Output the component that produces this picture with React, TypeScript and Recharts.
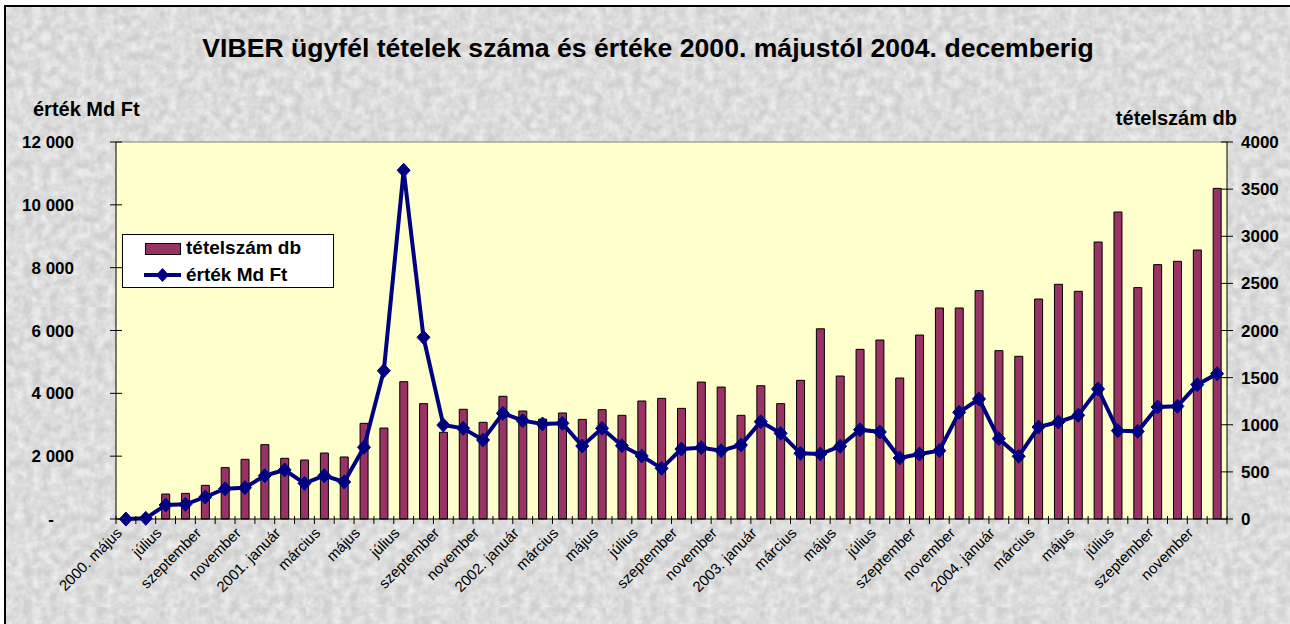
import {
  Bar,
  CartesianGrid,
  ComposedChart,
  Legend,
  Line,
  ReferenceLine,
  XAxis,
  YAxis,
} from "recharts";

const honapok = [
  "2000. május", "június", "július", "augusztus", "szeptember", "október", "november", "december",
  "2001. január", "február", "március", "április", "május", "június", "július", "augusztus",
  "szeptember", "október", "november", "december",
  "2002. január", "február", "március", "április", "május", "június", "július", "augusztus",
  "szeptember", "október", "november", "december",
  "2003. január", "február", "március", "április", "május", "június", "július", "augusztus",
  "szeptember", "október", "november", "december",
  "2004. január", "február", "március", "április", "május", "június", "július", "augusztus",
  "szeptember", "október", "november", "december",
];

// tételszám db (jobb tengely)
const tetelszam = [
  0, 0, 265, 272, 357, 545, 633, 789, 644, 626, 700, 658, 1015, 965, 1457, 1224,
  920, 1164, 1026, 1302, 1146, 1060, 1125, 1057, 1160, 1100, 1252, 1280, 1174, 1453,
  1400, 1100, 1414, 1224, 1471, 2018,
  1517, 1800, 1899, 1496, 1952, 2239, 2239, 2423, 1786, 1726, 2334, 2490, 2416, 2939,
  3257, 2455, 2699, 2734, 2854, 3508,
];

// érték Md Ft (bal tengely)
const ertek = [
  0, 20, 446, 467, 700, 965, 997, 1380, 1560, 1135, 1380, 1178, 2282, 4720, 11100, 5784,
  2992, 2886, 2515, 3364, 3130, 3024, 3045, 2324, 2886, 2334, 2005, 1613, 2228, 2270,
  2175, 2355, 3098, 2727, 2090, 2069,
  2313, 2843, 2769, 1942, 2069, 2175, 3395, 3820, 2557, 1995, 2928, 3087, 3299, 4138,
  2812, 2790, 3565, 3586, 4276, 4626,
];

const balTickek = [0, 2000, 4000, 6000, 8000, 10000, 12000];
const jobbTickek = [0, 500, 1000, 1500, 2000, 2500, 3000, 3500, 4000];

const data = honapok.map((honap, i) => ({
  honap,
  tetelszam: tetelszam[i],
  ertek: ertek[i],
}));

const FONT = "Arial, 'Liberation Sans', Helvetica, sans-serif";
const BAR_COLOR = "#993366";
const LINE_COLOR = "#000080";

const grain = `<svg xmlns='http://www.w3.org/2000/svg' width='300' height='300'><filter id='f'><feTurbulence type='fractalNoise' baseFrequency='0.11' numOctaves='3' seed='4' stitchTiles='stitch'/><feColorMatrix type='matrix' values='0 0 0 0 1 0 0 0 0 1 0 0 0 0 1 1.1 0 0 0 -0.28'/></filter><rect width='300' height='300' filter='url(#f)'/></svg>`;

const fmtBal = (v: number) =>
  v === 0 ? "-" : v >= 1000 ? `${Math.floor(v / 1000)} ${String(v % 1000).padStart(3, "0")}` : String(v);

function BalTick({ x, y, payload }: any) {
  return (
    <g>
      <line x1={x - 6} x2={x + 6} y1={y} y2={y} stroke="#000" />
      <text
        x={payload.value === 0 ? x - 62 : x - 42}
        y={y}
        dy="0.36em"
        textAnchor="end"
        fontFamily={FONT}
        fontWeight="bold"
        fontSize={17}
        fill="#000"
      >
        {fmtBal(payload.value)}
      </text>
    </g>
  );
}

function JobbTick({ x, y, payload }: any) {
  return (
    <g>
      <line x1={x - 6} x2={x + 6} y1={y} y2={y} stroke="#000" />
      <text
        x={x + 14}
        y={y}
        dy="0.36em"
        textAnchor="start"
        fontFamily={FONT}
        fontWeight="bold"
        fontSize={17}
        fill="#000"
      >
        {payload.value}
      </text>
    </g>
  );
}

function HonapTick({ x, y, payload, index, visibleTicksCount }: any) {
  const half = payload.offset ?? 1111 / honapok.length / 2;
  const last = index === visibleTicksCount - 1;
  const ax = x - 3;
  const ay = y + 15;
  return (
    <g>
      <line x1={x - half} x2={x - half} y1={y - 3} y2={y + 5} stroke="#000" />
      {last && <line x1={x + half} x2={x + half} y1={y - 3} y2={y + 5} stroke="#000" />}
      {index % 2 === 0 && (
        <text
          x={ax}
          y={ay}
          transform={`rotate(-45, ${ax}, ${ay})`}
          textAnchor="end"
          fontFamily={FONT}
          fontSize={15}
          fill="#000"
        >
          {payload.value}
        </text>
      )}
    </g>
  );
}

function Rombusz({ cx, cy }: any) {
  if (cx == null || cy == null) return null;
  return (
    <polygon
      points={`${cx},${cy - 7} ${cx + 6.5},${cy} ${cx},${cy + 7} ${cx - 6.5},${cy}`}
      fill={LINE_COLOR}
      stroke={LINE_COLOR}
    />
  );
}

function Jelmagyarazat() {
  return (
    <svg width={212} height={54} style={{ display: "block" }}>
      <rect x={0.5} y={0.5} width={211} height={53} fill="#fff" stroke="#000" />
      <rect x={23.5} y={9.5} width={35} height={11} fill={BAR_COLOR} stroke="#000" />
      <text x={64} y={20} fontFamily={FONT} fontWeight="bold" fontSize={19} fill="#000">
        tételszám db
      </text>
      <line x1={22} x2={59} y1={41} y2={41} stroke={LINE_COLOR} strokeWidth={4} />
      <polygon points="40.5,34 47,41 40.5,48 34,41" fill={LINE_COLOR} />
      <text x={64} y={47} fontFamily={FONT} fontWeight="bold" fontSize={19} fill="#000">
        érték Md Ft
      </text>
    </svg>
  );
}

export default function App() {
  return (
    <div
      style={{
        position: "fixed",
        left: 0,
        top: 0,
        width: 1290,
        height: 624,
        overflow: "hidden",
        background: "#fff",
        fontFamily: FONT,
      }}
    >
      <style>{"html,body{margin:0;overflow:hidden}"}</style>
      <div
        style={{
          position: "absolute",
          left: 4,
          top: 5,
          width: 1400,
          height: 700,
          borderLeft: "2px solid #000",
          borderTop: "2px solid #000",
          backgroundColor: "#cfcfcf",
          backgroundImage: `url("data:image/svg+xml,${encodeURIComponent(grain)}")`,
        }}
      />
      <div
        style={{
          position: "absolute",
          left: 0,
          width: 1296,
          top: 33,
          textAlign: "center",
          fontSize: 26.6,
          lineHeight: "30px",
          fontWeight: "bold",
          color: "#000",
        }}
      >
        VIBER ügyfél tételek száma és értéke 2000. májustól 2004. decemberig
      </div>
      <div
        style={{
          position: "absolute",
          left: 33,
          top: 97,
          fontSize: 20,
          lineHeight: "24px",
          fontWeight: "bold",
          whiteSpace: "nowrap",
        }}
      >
        érték Md Ft
      </div>
      <div
        style={{
          position: "absolute",
          right: 1290 - 1237,
          top: 106,
          fontSize: 20,
          lineHeight: "24px",
          fontWeight: "bold",
          whiteSpace: "nowrap",
        }}
      >
        tételszám db
      </div>
      <div style={{ position: "absolute", left: 0, top: 0 }}>
        <ComposedChart
          width={1290}
          height={624}
          data={data}
          margin={{ top: 142, right: 0, bottom: 0, left: 0 }}
        >
          <CartesianGrid
            yAxisId="left"
            horizontal={false}
            vertical={false}
            fill="#FFFFCC"
            fillOpacity={1}
          />
          <XAxis
            dataKey="honap"
            height={105}
            interval={0}
            tickLine={false}
            tickSize={0}
            tickMargin={0}
            axisLine={{ stroke: "#000" }}
            tick={<HonapTick />}
          />
          <YAxis
            yAxisId="left"
            orientation="left"
            width={116}
            domain={[0, 12000]}
            ticks={balTickek}
            interval={0}
            tickLine={false}
            tickSize={0}
            tickMargin={0}
            axisLine={{ stroke: "#000" }}
            tick={<BalTick />}
          />
          <YAxis
            yAxisId="right"
            orientation="right"
            width={63}
            domain={[0, 4000]}
            ticks={jobbTickek}
            interval={0}
            tickLine={false}
            tickSize={0}
            tickMargin={0}
            axisLine={{ stroke: "#000" }}
            tick={<JobbTick />}
          />
          <ReferenceLine yAxisId="left" y={12000} stroke="#808080" />
          <Legend
            layout="horizontal"
            verticalAlign="middle"
            align="center"
            content={() => <Jelmagyarazat />}
            wrapperStyle={{ left: 122, top: 234, width: 212, height: 54 }}
          />
          <Bar
            yAxisId="right"
            dataKey="tetelszam"
            name="tételszám db"
            fill={BAR_COLOR}
            stroke="#000"
            strokeWidth={1}
            barSize={8}
            isAnimationActive={false}
          />
          <Line
            yAxisId="left"
            dataKey="ertek"
            name="érték Md Ft"
            stroke={LINE_COLOR}
            strokeWidth={4}
            dot={<Rombusz />}
            activeDot={false}
            isAnimationActive={false}
          />
        </ComposedChart>
      </div>
    </div>
  );
}
